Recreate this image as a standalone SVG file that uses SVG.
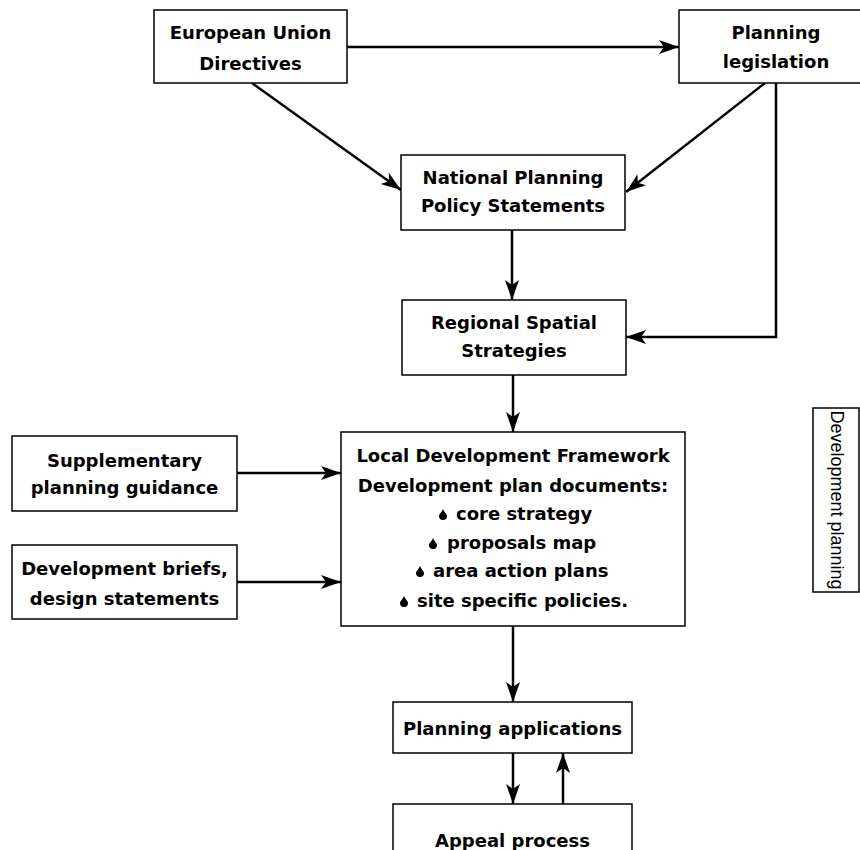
<svg xmlns="http://www.w3.org/2000/svg" width="860" height="850" viewBox="0 0 860 850">
  <style>
    .box { fill: #ffffff; stroke: #000000; stroke-width: 1.5; }
    .lbl { font-family: "DejaVu Sans", "Liberation Sans", sans-serif; font-weight: bold; font-size: 18px; fill: #000000; text-anchor: middle; }
    .lst { font-family: "DejaVu Sans", "Liberation Sans", sans-serif; font-weight: bold; font-size: 18px; fill: #000000; }
    .side { font-family: "Liberation Sans", Arial, sans-serif; font-size: 18px; fill: #000000; text-anchor: middle; }
    .conn { fill: none; stroke: #000000; stroke-width: 2.5; marker-end: url(#arrow); }
    .drop { fill: #000000; }
  </style>
  <defs>
    <marker id="arrow" markerUnits="userSpaceOnUse" viewBox="-22 -8 24 16" markerWidth="24" markerHeight="16" refX="0" refY="0" orient="auto">
      <path d="M0,0 L-20,-7 L-15,0 L-20,7 Z" fill="#000000"/>
    </marker>
    <!-- teardrop list bullet, baseline at y=0 -->
    <path id="bullet" d="M0,-11 C1,-8 4,-6 4,-4 A4,4 0 0 1 -4,-4 C-4,-6 -1,-8 0,-11 Z"/>
  </defs>

  <rect width="860" height="850" fill="#ffffff"/>

  <g id="connectors">
    <path class="conn" d="M347,47 L679,47"/>
    <path class="conn" d="M252,83 L401,190"/>
    <path class="conn" d="M765,83 L626,192"/>
    <path class="conn" d="M776,83 L776,337 L626,337"/>
    <path class="conn" d="M512,230 L512,300"/>
    <path class="conn" d="M513,375 L513,432"/>
    <path class="conn" d="M237,473 L341,473"/>
    <path class="conn" d="M237,582 L341,582"/>
    <path class="conn" d="M513,626 L513,702"/>
    <path class="conn" d="M513,753 L513,804"/>
    <path class="conn" d="M563,804 L563,753"/>
  </g>

  <g id="eu-directives">
    <rect class="box" x="154" y="10" width="193" height="73"/>
    <text class="lbl" x="250.5" y="39">European Union</text>
    <text class="lbl" x="250.5" y="70">Directives</text>
  </g>

  <g id="planning-legislation">
    <rect class="box" x="679" y="10" width="194" height="73"/>
    <text class="lbl" x="776" y="39">Planning</text>
    <text class="lbl" x="776" y="68">legislation</text>
  </g>

  <g id="national-policy">
    <rect class="box" x="401" y="155" width="224" height="75"/>
    <text class="lbl" x="513" y="184">National Planning</text>
    <text class="lbl" x="513" y="212">Policy Statements</text>
  </g>

  <g id="regional-strategies">
    <rect class="box" x="402" y="300" width="224" height="75"/>
    <text class="lbl" x="514" y="329">Regional Spatial</text>
    <text class="lbl" x="514" y="357">Strategies</text>
  </g>

  <g id="supplementary-guidance">
    <rect class="box" x="12" y="436" width="225" height="75"/>
    <text class="lbl" x="124.5" y="467">Supplementary</text>
    <text class="lbl" x="124.5" y="494">planning guidance</text>
  </g>

  <g id="development-briefs">
    <rect class="box" x="12" y="545" width="225" height="74"/>
    <text class="lbl" x="124.5" y="575">Development briefs,</text>
    <text class="lbl" x="124.5" y="605">design statements</text>
  </g>

  <g id="local-development-framework">
    <rect class="box" x="341" y="432" width="344" height="194"/>
    <text class="lbl" x="513" y="462">Local Development Framework</text>
    <text class="lbl" x="513" y="492">Development plan documents:</text>
    <use href="#bullet" class="drop" x="443" y="520"/>
    <text class="lst" x="456" y="520">core strategy</text>
    <use href="#bullet" class="drop" x="433" y="549"/>
    <text class="lst" x="447" y="549">proposals map</text>
    <use href="#bullet" class="drop" x="420" y="577"/>
    <text class="lst" x="433" y="577">area action plans</text>
    <use href="#bullet" class="drop" x="404" y="607"/>
    <text class="lst" x="417" y="607">site specific policies.</text>
  </g>

  <g id="planning-applications">
    <rect class="box" x="393" y="702" width="239" height="51"/>
    <text class="lbl" x="512.5" y="735">Planning applications</text>
  </g>

  <g id="appeal-process">
    <rect class="box" x="393" y="804" width="239" height="60"/>
    <text class="lbl" x="512.5" y="847">Appeal process</text>
  </g>

  <g id="development-planning">
    <rect class="box" x="813" y="408" width="46" height="184"/>
    <text class="side" transform="translate(831,500) rotate(90)">Development planning</text>
  </g>
</svg>
